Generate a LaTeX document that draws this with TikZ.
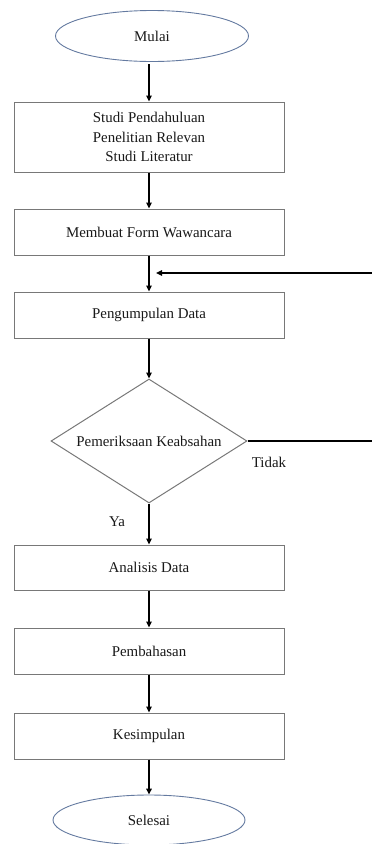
\documentclass[tikz,border=0pt]{standalone}
\usepackage{fontspec}
\setmainfont{Liberation Serif}
\usetikzlibrary{shapes.geometric,arrows.meta}
\definecolor{ellcol}{RGB}{100,122,160}
\definecolor{boxcol}{RGB}{120,120,120}
\definecolor{txtcol}{RGB}{25,25,25}
\tikzset{
  every node/.style={font=\fontsize{14.9}{19.5}\selectfont, text=txtcol},
  termbox/.style={ellipse, draw=ellcol, line width=0.9pt, inner sep=0pt, minimum width=193pt, minimum height=51pt},
  procbox/.style={rectangle, draw=boxcol, line width=1pt, inner sep=0pt, minimum width=270pt, align=center},
  decbox/.style={diamond, draw=boxcol, line width=1pt, inner sep=0pt, minimum width=196pt, minimum height=124pt, aspect=1.58},
  flow/.style={draw=black, line width=1.6pt, -{Triangle[length=6pt,width=5.5pt]}},
  plain/.style={draw=black, line width=1.3pt},
  lbl/.style={inner sep=0pt}
}
\begin{document}
\begin{tikzpicture}[x=1pt,y=-1pt]
\useasboundingbox (0,0) rectangle (372,844);
\node[termbox] (mulai) at (152,36) {Mulai};
\node[procbox, minimum height=70pt] (studi) at (149,137) {Studi Pendahuluan\\Penelitian Relevan\\Studi Literatur};
\node[procbox, minimum height=46pt] (form) at (149,232) {Membuat Form Wawancara};
\node[procbox, minimum height=46pt] (kumpul) at (149,315) {Pengumpulan Data};
\node[decbox] (cek) at (149,441) {Pemeriksaan Keabsahan};
\node[procbox, minimum height=45pt] (analisis) at (149,567.5) {Analisis Data};
\node[procbox, minimum height=46pt] (bahas) at (149,651) {Pembahasan};
\node[procbox, minimum height=46pt] (simpul) at (149,736) {Kesimpulan};
\node[termbox, minimum width=192pt, minimum height=50pt] (selesai) at (149,820) {Selesai};
\node[lbl] (tidak) at (269,462) {Tidak};
\node[lbl] (ya) at (117,522) {Ya};
\coordinate (back) at (372,273);
\coordinate (backtip) at (156,273);
\coordinate (out) at (372,441);

\draw[flow] (149,64) -- (studi.north);
\draw[flow] (studi.south) -- (form.north);
\draw[flow] (form.south) -- (kumpul.north);
\draw[flow] (kumpul.south) -- (cek.north);
\draw[flow] (cek.south) -- (analisis.north);
\draw[flow] (analisis.south) -- (bahas.north);
\draw[flow] (bahas.south) -- (simpul.north);
\draw[flow] (simpul.south) -- (selesai.north);
\draw[flow, line width=1.3pt] (back) -- (backtip);
\draw[plain] (cek.east) -- (out);
\end{tikzpicture}
\end{document}
